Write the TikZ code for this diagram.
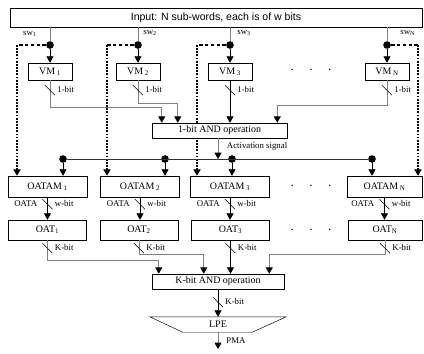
\documentclass[tikz,border=0pt]{standalone}
\usepackage{fontspec}
\setmainfont{Liberation Serif}
\newfontfamily\inpfont{Liberation Sans}
\usetikzlibrary{arrows.meta,calc,positioning}

\begin{document}
\begin{tikzpicture}[x=0.03cm, y=-0.03cm,
  font=\fontsize{8}{9}\selectfont,
  box/.style={draw=black, thin, fill=white, inner sep=1pt, minimum height=0.51cm,
              font=\fontsize{8.5}{10}\selectfont},
  vm/.style={box, minimum width=1.32cm},
  oatam/.style={box, minimum width=2.37cm, minimum height=0.63cm},
  oat/.style={box, minimum width=2.34cm, minimum height=0.6cm},
  andop/.style={box, minimum height=0.45cm},
  lbl/.style={inner sep=1pt, font=\fontsize{7.5}{9}\selectfont},
  dot/.style={circle, fill=black, inner sep=0pt, minimum size=6.5pt},
  gln/.style={draw=black!50, line width=0.8pt},
  bln/.style={draw=black, line width=0.6pt},
  arr/.style={-{Triangle[length=5.5pt,width=6pt,color=black]}},
  hdash/.style={draw=black, line width=1pt, dash pattern=on 3pt off 2pt},
  vdash/.style={draw=black, line width=1.5pt, dash pattern=on 1.5pt off 1.2pt},
]
% ---- bus-width mark: #1 anchor #2 offset below #3 label ----
\newcommand{\bitmark}[3]{%
  \draw[thin] ($(#1)+(-5,#2-5)$) -- ($(#1)+(5,#2+5)$);%
  \node[lbl,anchor=west] at ($(#1)+(6,#2-1)$) {#3};%
}
\useasboundingbox (0,0) rectangle (424,353);

% ---- input ----
\node[box, minimum width=12.36cm, minimum height=0.57cm,
      font=\inpfont\fontsize{9}{10}\selectfont] (Inp) at (216,17.5)
      {Input: N sub-words, each is of w bits};

% ---- switch points ----
\node[dot] (d1) at (50,45) {};
\node[dot] (d2) at (138,45) {};
\node[dot] (d3) at (230,45) {};
\node[dot] (dN) at (387,45) {};
\coordinate (c1) at (17,45);
\coordinate (c2) at (107,45);
\coordinate (c3) at (197,45);
\coordinate (cN) at (418,45);
\node[lbl,anchor=east] at (38,34) {sw\textsubscript{1}};
\node[lbl,anchor=west] at (142,33) {sw\textsubscript{2}};
\node[lbl,anchor=west] at (236,33) {sw\textsubscript{3}};
\node[lbl,anchor=west] at (399,33) {sw\textsubscript{N}};

% ---- VM row ----
\node[vm] (VM1) at (50,71.5)  {VM\,\textsubscript{1}};
\node[vm] (VM2) at (138,71.5) {VM\,\textsubscript{2}};
\node[vm] (VM3) at (230,71.5) {VM\,\textsubscript{3}};
\node[vm] (VMN) at (387,71.5) {VM\,\textsubscript{N}};
\node (dotsA) at (311,70) {\textbf{.\hspace{14pt}.\hspace{14pt}.}};

% ---- OATAM / OAT rows ----
\node[oatam] (OATAM1) at (47.5,186.5) {OATAM\,\textsubscript{1}};
\node[oatam] (OATAM2) at (140,186.5)  {OATAM\,\textsubscript{2}};
\node[oatam] (OATAM3) at (230,186.5)  {OATAM\,\textsubscript{3}};
\node[oatam, minimum width=2.25cm] (OATAMN) at (384.5,186.5) {OATAM\,\textsubscript{N}};
\node (dotsB) at (311,186) {\textbf{.\hspace{14pt}.\hspace{14pt}.}};

\node[oat] (OAT1) at (47.5,230) {OAT\textsubscript{1}};
\node[oat] (OAT2) at (139,230)  {OAT\textsubscript{2}};
\node[oat] (OAT3) at (230.5,230) {OAT\textsubscript{3}};
\node[oat, minimum width=2.22cm] (OATN) at (385,230) {OAT\textsubscript{N}};
\node (dotsC) at (311,230) {\textbf{.\hspace{14pt}.\hspace{14pt}.}};

\node[andop, minimum width=3.96cm] (KAND) at (218,281.5) {K-bit AND operation};

% ---- control paths (under the AND box) ----
\draw[hdash] (d1) -- (c1);
\draw[hdash] (d2) -- (c2);
\draw[hdash] (d3) -- (c3);
\draw[hdash] (dN) -- (cN);
\draw[vdash,arr] (c1) -- (c1 |- OATAM1.north);
\draw[vdash,arr] (c2) -- (c2 |- OATAM2.north);
\draw[vdash,arr] (c3) -- (c3 |- OATAM3.north);
\draw[vdash,arr] (cN) -- (cN |- OATAMN.north);

\node[andop, minimum width=4.05cm] (AND1) at (219.5,130.5) {1-bit AND operation};

% ---- LPE ----
\node[minimum width=4.08cm, minimum height=0.45cm, inner sep=0pt,
      font=\fontsize{8.5}{10}\selectfont] (LPE) at (218,324.5) {LPE};
\draw[thin] (LPE.north west) -- (LPE.north east) -- ($(LPE.south east)+(-34,0)$)
  -- ($(LPE.south west)+(33,0)$) -- cycle;
\coordinate (pma) at (218,349);

% ---- input to VM ----
\foreach \k in {1,2,3,N}{
  \draw[gln] (d\k |- Inp.south) -- (d\k);
  \draw[bln,arr] (d\k) -- (VM\k.north);
}

% ---- VM to 1-bit AND ----
\draw[gln,arr] (VM1.south) -- ++(0,27) -| ($(AND1.north west)+(10,0)$);
\draw[gln,arr] (VM2.south) -- ++(0,23) -| ($(AND1.north west)+(26,0)$);
\draw[bln,arr] (VM3.south) -- (VM3.south |- AND1.north);
\draw[gln,arr] (VMN.south) -- ++(0,25) -| ($(AND1.north east)+(-10,0)$);
\bitmark{VM1.south}{10}{1-bit}
\bitmark{VM2.south}{10}{1-bit}
\bitmark{VM3.south}{10}{1-bit}
\bitmark{VMN.south}{10}{1-bit}

% ---- activation bus ----
\node[dot] (e1) at (63,159) {};
\node[dot] (e2) at (165,159) {};
\node[dot] (e3) at (232,159) {};
\node[dot] (eN) at (372,159) {};
\draw[draw=black!80, line width=0.7pt] (e1) -- (eN);
\draw[gln,arr] ($(AND1.south)+(-1.5,0)$) -- ($(AND1.south |- e1)+(-1.5,0)$);
\node[lbl,anchor=west] at ($(AND1.south)+(6,8)$) {Activation signal};
\draw[bln,arr] (e1) -- (e1 |- OATAM1.north);
\draw[bln,arr] (e2) -- (e2 |- OATAM2.north);
\draw[bln,arr] (e3) -- (e3 |- OATAM3.north);
\draw[bln,arr] (eN) -- (eN |- OATAMN.north);

% ---- OATAM to OAT ----
\foreach \k in {1,2,3,N}{
  \draw[bln,arr] (OATAM\k.south) -- (OATAM\k.south |- OAT\k.north);
  \bitmark{OATAM\k.south}{7}{w-bit}
  \node[lbl,anchor=east] at ($(OATAM\k.south)+(-9,6)$) {OATA};
}

% ---- OAT to K-bit AND ----
\draw[gln,arr] (OAT1.south) -- ++(0,20) -| ($(KAND.north west)+(7,0)$);
\draw[gln,arr] (OAT2.south) -- ++(0,14) -| ($(KAND.north west)+(52,0)$);
\draw[bln,arr] (OAT3.south) -- (OAT3.south |- KAND.north);
\draw[gln,arr] (OATN.south) -- ++(0,14) -| ($(KAND.north east)+(-15,0)$);
\bitmark{OAT1.south}{8}{K-bit}
\bitmark{OAT2.south}{8}{K-bit}
\bitmark{OAT3.south}{8}{K-bit}
\bitmark{OATN.south}{8}{K-bit}

% ---- output ----
\draw[bln,arr] (KAND.south) -- (LPE.north);
\bitmark{KAND.south}{13}{K-bit}
\draw[gln,arr] (LPE.south) -- (pma);
\node[lbl,anchor=west] at ($(LPE.south)+(7,8)$) {PMA};
\end{tikzpicture}
\end{document}
